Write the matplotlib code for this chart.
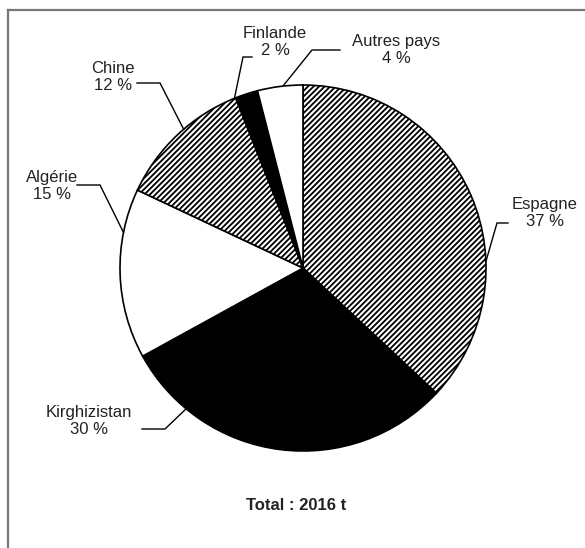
import numpy as np
import matplotlib
matplotlib.use("Agg")
import matplotlib.pyplot as plt
from matplotlib.lines import Line2D

countries = ["Espagne", "Kirghizistan", "Algérie", "Chine", "Finlande", "Autres pays"]
shares = [37, 30, 15, 12, 2, 4]
total_label = "Total : 2016 t"

fills = ["white", "black", "white", "white", "black", "white"]
hatches = ["//////", None, None, "//////", None, None]

plt.rcParams["font.family"] = ["Liberation Sans", "DejaVu Sans"]
plt.rcParams["hatch.linewidth"] = 1.3
plt.rcParams["hatch.color"] = "#222222"

W, H = 585, 548
fig = plt.figure(figsize=(W / 100, H / 100), dpi=100)
ax = fig.add_axes([0, 0, 1, 1])
cx, cy, R = 303, 268, 183

def px(x, y):
    return (x - cx) / R, (cy - y) / R

wedges, _ = ax.pie(shares, startangle=90, counterclock=False, radius=1.0,
                   colors=fills, wedgeprops=dict(edgecolor="black", linewidth=1.2))
for w, h in zip(wedges, hatches):
    if h:
        w.set_hatch(h)

ax.set_aspect("auto")
ax.set_xlim(px(0, 0)[0], px(W, 0)[0])
ax.set_ylim(px(0, H)[1], px(0, 0)[1])
ax.axis("off")

# label layout (pixel positions): text centre, elbow path start, elbow point, anchor angle
layout = {
    "Espagne":      dict(text=(545, 213), start=(508, 223), elbow=(497, 223), ang=2.0),
    "Kirghizistan": dict(text=(89, 421), start=(142, 429), elbow=(165, 429), ang=-129.7),
    "Algérie":      dict(text=(52, 186), start=(77, 185), elbow=(100, 185), ang=168.8),
    "Chine":        dict(text=(113, 77), start=(137, 83), elbow=(160, 83), ang=130.7),
    "Finlande":     dict(text=(275, 42), start=(252, 57), elbow=(243, 57), ang=112.0),
    "Autres pays":  dict(text=(396, 50), start=(340, 50), elbow=(312, 50), ang=96.3),
}

for name, val in zip(countries, shares):
    L = layout[name]
    tx, ty = px(*L["text"])
    ax.text(tx, ty, f"{name}\n{val} %", ha="center", va="center", fontsize=12,
            linespacing=1.2, color="#222222")
    a = np.deg2rad(L["ang"])
    sx, sy = px(*L["start"])
    ex, ey = px(*L["elbow"])
    ax.plot([sx, ex, np.cos(a)], [sy, ey, np.sin(a)], color="black", lw=1.0,
            solid_joinstyle="miter")

tx, ty = px(296, 505)
ax.text(tx, ty, total_label, ha="center", va="center", fontsize=12,
        fontweight="bold", color="#222222")

# frame (top and left edges)
fig.add_artist(Line2D([8 / W, 1], [1 - 10 / H, 1 - 10 / H], transform=fig.transFigure,
                      color="#777777", lw=1.6))
fig.add_artist(Line2D([8 / W, 8 / W], [0, 1 - 10 / H], transform=fig.transFigure,
                      color="#777777", lw=1.6))

fig.savefig("out.png", dpi=100, facecolor="white")
